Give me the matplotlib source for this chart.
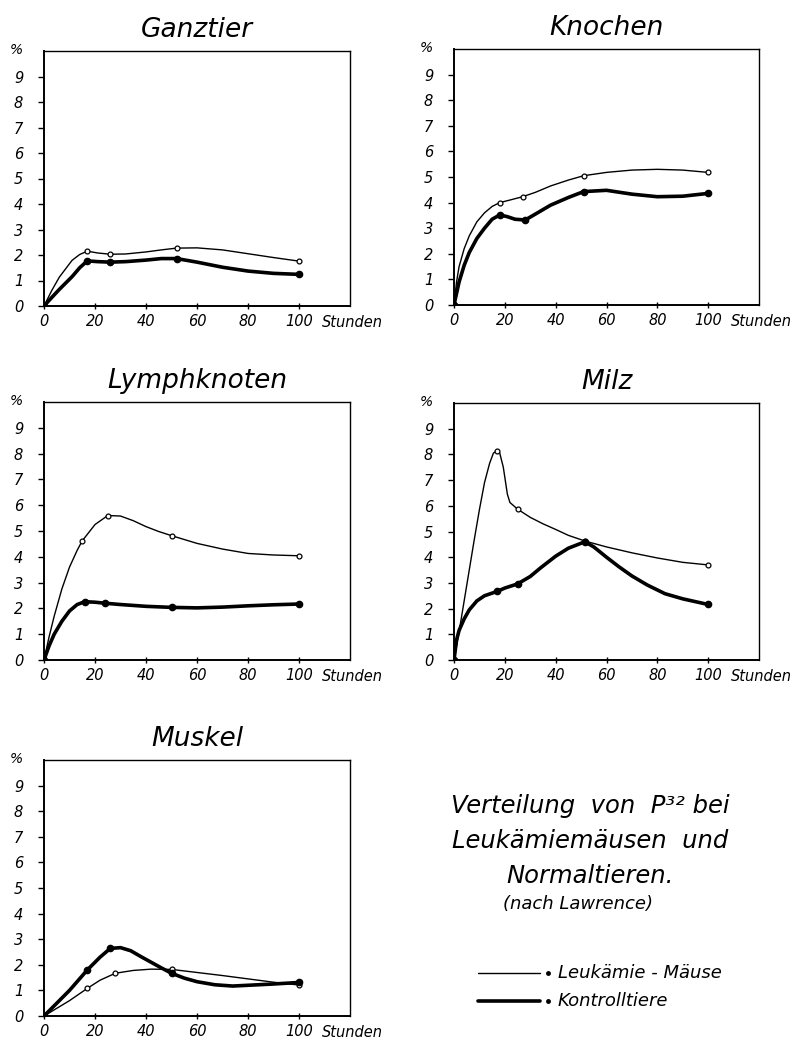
import matplotlib
matplotlib.use("Agg")
import matplotlib.pyplot as plt
from matplotlib.lines import Line2D

plt.rcParams['font.family'] = ['DejaVu Sans']
plt.rcParams['font.style'] = 'italic'

# ---------------- data ----------------
titles = ["Ganztier", "Knochen", "Lymphknoten", "Milz", "Muskel"]
x_ticks = [0, 20, 40, 60, 80, 100]
y_ticks = [0, 1, 2, 3, 4, 5, 6, 7, 8, 9]

# Ganztier
ganz_leuk_t = [0, 3, 6, 11, 14, 17, 21, 26, 32, 40, 46, 52, 60, 70, 80, 90, 100]
ganz_leuk_v = [0, 0.6, 1.13, 1.79, 2.02, 2.15, 2.08, 2.03, 2.04, 2.12, 2.2, 2.27, 2.28, 2.2, 2.05, 1.9, 1.76]
ganz_leuk_mt = [0, 17, 26, 52, 100]
ganz_leuk_mv = [0, 2.15, 2.03, 2.27, 1.76]
ganz_kont_t = [0, 3, 6, 11, 14, 17, 21, 26, 32, 40, 46, 52, 60, 70, 80, 90, 100]
ganz_kont_v = [0, 0.33, 0.65, 1.15, 1.5, 1.77, 1.74, 1.72, 1.74, 1.8, 1.86, 1.86, 1.72, 1.52, 1.37, 1.28, 1.24]
ganz_kont_mt = [0, 17, 26, 52, 100]
ganz_kont_mv = [0, 1.77, 1.72, 1.86, 1.24]

# Knochen
kn_leuk_t = [0, 1, 2, 4, 6, 9, 12, 15, 18, 22, 27, 32, 38, 45, 51, 60, 70, 80, 90, 100]
kn_leuk_v = [0, 0.9, 1.5, 2.2, 2.7, 3.25, 3.6, 3.85, 4.0, 4.1, 4.23, 4.4, 4.65, 4.88, 5.05, 5.18, 5.27, 5.3, 5.27, 5.18]
kn_leuk_mt = [0, 18, 27, 51, 100]
kn_leuk_mv = [0, 4.0, 4.23, 5.05, 5.18]
kn_kont_t = [0, 2, 4, 6, 9, 12, 15, 18, 21, 24, 28, 32, 38, 45, 51, 60, 70, 80, 90, 100]
kn_kont_v = [0, 0.9, 1.55, 2.05, 2.6, 3.0, 3.35, 3.52, 3.45, 3.35, 3.32, 3.55, 3.9, 4.2, 4.43, 4.48, 4.33, 4.23, 4.25, 4.36]
kn_kont_mt = [0, 18, 28, 51, 100]
kn_kont_mv = [0, 3.52, 3.32, 4.43, 4.36]

# Lymphknoten
ly_leuk_t = [0, 2, 4, 7, 10, 13, 15, 20, 25, 30, 35, 40, 45, 50, 60, 70, 80, 90, 100]
ly_leuk_v = [0, 0.9, 1.7, 2.75, 3.6, 4.25, 4.62, 5.25, 5.6, 5.58, 5.4, 5.17, 4.98, 4.82, 4.52, 4.3, 4.13, 4.07, 4.04]
ly_leuk_mt = [0, 15, 25, 50, 100]
ly_leuk_mv = [0, 4.62, 5.6, 4.82, 4.04]
ly_kont_t = [0, 2, 4, 7, 10, 13, 16, 20, 24, 30, 40, 50, 60, 70, 80, 90, 100]
ly_kont_v = [0, 0.55, 1.0, 1.5, 1.9, 2.15, 2.26, 2.24, 2.2, 2.15, 2.08, 2.04, 2.02, 2.05, 2.1, 2.14, 2.17]
ly_kont_mt = [0, 16, 24, 50, 100]
ly_kont_mv = [0, 2.26, 2.2, 2.04, 2.17]

# Milz
mi_leuk_t = [0, 2, 4, 6, 8, 10, 12, 14, 15.5, 17, 18, 19.4, 21, 22, 25, 30, 35, 40, 45, 51.5, 60, 70, 80, 90, 100]
mi_leuk_v = [0, 1.1, 2.3, 3.5, 4.7, 5.85, 6.9, 7.65, 8.05, 8.15, 8.05, 7.5, 6.45, 6.13, 5.87, 5.55, 5.3, 5.08, 4.85, 4.63, 4.4, 4.17, 3.97, 3.8, 3.7]
mi_leuk_mt = [0, 17, 25, 51.5, 100]
mi_leuk_mv = [0, 8.15, 5.87, 4.63, 3.7]
mi_kont_t = [0, 1, 2, 4, 6, 9, 12, 17, 20, 25, 30, 34, 40, 45, 51.5, 55, 60, 65, 70, 76, 83, 90, 100]
mi_kont_v = [0, 0.78, 1.15, 1.6, 1.95, 2.3, 2.5, 2.67, 2.8, 2.96, 3.25, 3.58, 4.04, 4.35, 4.6, 4.4, 4.0, 3.62, 3.27, 2.92, 2.58, 2.38, 2.16]
mi_kont_mt = [0, 17, 25, 51.5, 100]
mi_kont_mv = [0, 2.67, 2.96, 4.6, 2.16]

# Muskel
mu_leuk_t = [0, 5, 10, 17, 22, 28, 35, 42, 50, 60, 70, 80, 90, 100]
mu_leuk_v = [0, 0.3, 0.6, 1.08, 1.4, 1.67, 1.78, 1.83, 1.82, 1.7, 1.58, 1.45, 1.32, 1.21]
mu_leuk_mt = [0, 17, 28, 50, 100]
mu_leuk_mv = [0, 1.08, 1.67, 1.82, 1.21]
mu_kont_t = [0, 5, 10, 17, 22, 26, 30, 34, 38, 42, 46, 50, 55, 60, 67, 74, 80, 90, 100]
mu_kont_v = [0, 0.5, 1.0, 1.8, 2.3, 2.64, 2.67, 2.55, 2.32, 2.1, 1.88, 1.67, 1.48, 1.34, 1.22, 1.17, 1.2, 1.25, 1.31]
mu_kont_mt = [0, 17, 26, 50, 100]
mu_kont_mv = [0, 1.8, 2.64, 1.67, 1.31]

legend_labels = ["Leukämie - Mäuse", "Kontrolltiere"]
text_lines = ["Verteilung  von  P³² bei", "Leukämiemäusen  und", "Normaltieren."]
text_note = "(nach Lawrence)"

panels = [
    (ganz_leuk_t, ganz_leuk_v, ganz_leuk_mt, ganz_leuk_mv, ganz_kont_t, ganz_kont_v, ganz_kont_mt, ganz_kont_mv),
    (kn_leuk_t, kn_leuk_v, kn_leuk_mt, kn_leuk_mv, kn_kont_t, kn_kont_v, kn_kont_mt, kn_kont_mv),
    (ly_leuk_t, ly_leuk_v, ly_leuk_mt, ly_leuk_mv, ly_kont_t, ly_kont_v, ly_kont_mt, ly_kont_mv),
    (mi_leuk_t, mi_leuk_v, mi_leuk_mt, mi_leuk_mv, mi_kont_t, mi_kont_v, mi_kont_mt, mi_kont_mv),
    (mu_leuk_t, mu_leuk_v, mu_leuk_mt, mu_leuk_mv, mu_kont_t, mu_kont_v, mu_kont_mt, mu_kont_mv),
]

# ---------------- layout (pixel boxes: left, right, top, bottom) ----------------
W, H = 795, 1041
boxes = [(44, 350, 51, 306), (454, 759, 49, 305), (44, 350, 402, 660),
         (454, 759, 403, 660), (44, 350, 760, 1016)]

fig = plt.figure(figsize=(W / 100, H / 100), dpi=100)
fig.patch.set_facecolor('white')

for (l, r, t, b), title, data in zip(boxes, titles, panels):
    ax = fig.add_axes([l / W, 1 - b / H, (r - l) / W, (b - t) / H])
    lt, lv, lmt, lmv, kt, kv, kmt, kmv = data
    ax.plot(lt, lv, color='black', lw=1.0, solid_capstyle='round', zorder=3)
    ax.plot(lmt, lmv, 'o', ms=3.5, mfc='white', mec='black', mew=0.9, zorder=4)
    ax.plot(kt, kv, color='black', lw=2.6, solid_capstyle='round', solid_joinstyle='round', zorder=3)
    ax.plot(kmt, kmv, 'o', ms=4.5, color='black', zorder=4)
    ax.set_xlim(0, 120)
    ax.set_ylim(0, 10)
    ax.set_xticks(x_ticks)
    ax.set_xticklabels([str(v) for v in x_ticks], fontsize=10.5, style='italic')
    ax.set_yticks(y_ticks)
    ax.set_yticklabels([str(v) for v in y_ticks], fontsize=10.5, style='italic')
    ax.tick_params(axis='y', direction='out', length=4, width=1.0, pad=11)
    ax.tick_params(axis='x', direction='inout', length=5, width=1.0, pad=3)
    for s in ['left', 'bottom']:
        ax.spines[s].set_linewidth(1.4)
    for s in ['top', 'right']:
        ax.spines[s].set_linewidth(1.0)
    ax.annotate('%', xy=(0, 1), xycoords='axes fraction', xytext=(-15, 1),
                textcoords='offset points', ha='right', va='center',
                fontsize=10, style='italic')
    ax.text(109, -0.035, 'Stunden', transform=ax.get_xaxis_transform(),
            ha='left', va='top', fontsize=10.5, style='italic')
    ax.set_title(title, fontsize=19, style='italic', pad=10)

# text block
cx = 590 / W
ys = [806, 841, 876]
for s, y in zip(text_lines, ys):
    fig.text(cx, 1 - y / H, s, ha='center', va='center', fontsize=17.5, style='italic')
fig.text(578 / W, 1 - 904 / H, text_note, ha='center', va='center', fontsize=13, style='italic')

# legend
leg_y = [973, 1001]
lws = [1.0, 2.6]
for y, lw, lab in zip(leg_y, lws, legend_labels):
    fy = 1 - y / H
    fig.add_artist(Line2D([478 / W, 540 / W], [fy, fy], color='black', lw=lw,
                          solid_capstyle='round'))
    fig.add_artist(Line2D([548 / W], [fy], marker='o', ms=2.5, color='black'))
    fig.text(558 / W, fy, lab, ha='left', va='center', fontsize=13, style='italic')

fig.savefig('out.png', dpi=100, facecolor='white')
